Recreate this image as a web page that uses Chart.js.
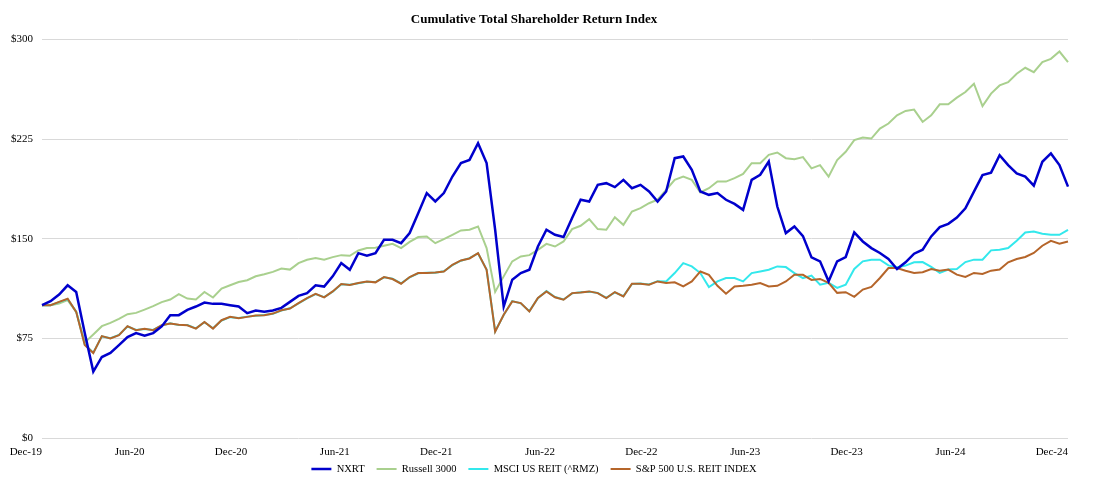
<!DOCTYPE html>
<html>
<head>
<meta charset="utf-8">
<script src="https://cdn.jsdelivr.net/npm/chart.js@4.4.1/dist/chart.umd.min.js"></script>
<style>
  html, body { margin: 0; padding: 0; background: #fff; }
  #wrap { width: 1115px; height: 480px; position: relative; }
</style>
</head>
<body>
<div id="wrap"><canvas id="tsrChart"></canvas></div>
<script>
// half-month steps, Dec-19 .. Dec-24 (121 points)
const tickLabels = ['Dec-19', 'Jun-20', 'Dec-20', 'Jun-21', 'Dec-21', 'Jun-22',
  'Dec-22', 'Jun-23', 'Dec-23', 'Jun-24', 'Dec-24'];

const nxrt = [
  100, 103, 108, 115, 110, 79, 50, 61, 64, 70, 76, 79,
  77, 79, 84, 92.5, 92.5, 96.5, 99, 102, 101, 101, 100, 99,
  94, 96, 95, 96, 98, 102.5, 107, 109, 115, 114, 121.7, 131.7,
  126.7, 139.2, 137.2, 139.2, 149.3, 149.3, 146.7, 154.3, 169.3, 184.4, 178.1, 184.4,
  196.9, 207, 209.4, 222, 207, 156.8, 99, 119.2, 124.2, 126.7, 144.2, 156.8,
  153, 151.3, 165.6, 179.4, 178.1, 190.6, 191.9, 188.9, 194.4, 188.1, 190.6, 185.6,
  178.1, 185.6, 210.7, 212, 201.9, 185.6, 183.1, 184.4, 179.4, 176.3, 171.8, 194.4,
  198.2, 208.2, 174.3, 154.3, 159.3, 152, 136, 133, 118, 133, 136.3, 154.8,
  148, 143, 139.3, 134.8, 127.3, 132.3, 138.8, 141.8, 151.8, 158.8, 161.3, 166,
  173, 185.5, 198, 199.8, 213, 205.5, 199.3, 196.8, 190, 208, 214.3, 205.5,
  189.3
];

const russell3000 = [
  100, 100, 101.3, 103.8, 95, 72, 78, 84.2, 86.7, 89.7, 93.2, 94.2,
  96.7, 99.3, 102.3, 104.3, 108.3, 105, 104.3, 110, 105.8, 112.5, 115, 117.5,
  118.8, 121.8, 123.3, 125.1, 127.6, 126.8, 131.7, 134.2, 135.5, 134.2, 136.2, 137.7,
  137.2, 141.2, 143, 143.2, 144.7, 146.2, 143, 147.7, 151.3, 151.8, 146.7, 149.8,
  153, 156.3, 156.8, 159.3, 143, 110, 121.7, 133, 136.7, 137.7, 141.7, 146.2,
  144.2, 148, 157.3, 159.8, 164.8, 157.3, 156.8, 166.3, 160.5, 170.6, 173.1, 176.8,
  179.4, 186.9, 194.4, 196.9, 194.4, 184.9, 188.1, 193.1, 193.1, 195.7, 198.9, 206.9,
  206.9, 213.2, 215, 210.7, 210, 211.5, 203, 205.5, 196.8, 209.3, 215.5, 224.3,
  226.3, 225.5, 233, 236.8, 243, 246.3, 247.3, 238, 243, 251.3, 251.3, 256.3,
  260.5, 266.8, 250, 259.3, 265.5, 268, 274.3, 278.8, 275.5, 283, 285.5, 291,
  283
];

const msciReit = [
  100, 100, 102.3, 104.6, 95.2, 70.4, 64.3, 76.5, 75.2, 77.6, 84, 81.4,
  82, 81.4, 84.7, 86.4, 85, 85.1, 82.6, 87.2, 82.6, 88.5, 91, 90.4,
  91.4, 92, 92.7, 93.5, 96, 97.7, 101.3, 105.2, 108.4, 106.1, 110.2, 115.7,
  115.4, 116.5, 117.7, 117.4, 121, 119.9, 116.4, 121, 124, 124.4, 124.5, 125.6,
  130.2, 133.5, 135.4, 139, 126.9, 80.3, 92.6, 103.1, 101.4, 95.5, 105.2, 110.6,
  106.2, 104.3, 108.9, 109.8, 110.2, 109.3, 105.6, 109.7, 106.8, 116, 116.4, 115.6,
  118.1, 117.9, 124.2, 131.7, 129.2, 124.2, 113.6, 117.9, 120.4, 120.4, 117.9, 124.2,
  125.4, 126.7, 129.2, 128.7, 124.2, 120.4, 122.3, 115.5, 116.8, 113, 115.5, 127.3,
  133, 134.3, 134.3, 130, 128.5, 129.8, 132.3, 132.5, 128.8, 124.3, 126.8, 127.3,
  132.5, 134.3, 134.3, 141.3, 141.8, 143, 148.5, 154.8, 155.5, 153.8, 153, 153,
  156.8
];

const spReit = [
  100, 100, 102.5, 104.8, 95, 70, 64, 76.7, 75, 77.4, 84.2, 81.2,
  82.2, 81.2, 84.9, 86.2, 85.2, 84.9, 82.4, 87.4, 82.4, 88.7, 91.2, 90.2,
  91.2, 92.2, 92.5, 93.7, 96.2, 97.5, 101.5, 105.4, 108.6, 105.9, 110.4, 115.9,
  115.2, 116.7, 117.9, 117.2, 121.2, 119.7, 116.2, 121.2, 124.2, 124.2, 124.7, 125.4,
  130.4, 133.7, 135.2, 139.2, 126.7, 80, 92.8, 102.9, 101.6, 95.3, 105.4, 110.4,
  106, 104.1, 109.1, 109.6, 110.4, 109.1, 105.4, 109.9, 106.6, 116.2, 116.2, 115.4,
  117.9, 116.7, 117.2, 114.1, 117.9, 125.4, 122.9, 114.6, 108.6, 114.1, 114.6, 115.4,
  116.7, 114.1, 114.6, 117.9, 122.9, 122.9, 119, 119.8, 116.8, 109.3, 109.8, 106.3,
  111.8, 113.8, 120.5, 128, 128, 126, 124.3, 124.8, 127.3, 126, 126.8, 123,
  121.3, 124.3, 123.5, 126, 126.8, 132.3, 134.8, 136.3, 139.3, 144.8, 148.5, 146.3,
  148
];

const yTicks = [0, 75, 150, 225, 300];

// category labels: one per half month
const categories = [];
for (let i = 0; i < nxrt.length; i++) {
  const m = 11 + Math.ceil(i / 2);
  const y = 2019 + Math.floor(m / 12);
  const mm = String(m % 12 + 1).padStart(2, '0');
  categories.push(y + '-' + mm + (i % 2 ? '-15' : '-end'));
}

const serif = "'Liberation Serif', 'Times New Roman', serif";
Chart.defaults.font.family = serif;
Chart.defaults.color = '#000';

const line = (label, data, color, width, order) => ({
  label: label,
  data: data,
  borderColor: color,
  backgroundColor: color,
  borderWidth: width,
  pointRadius: 0,
  pointHoverRadius: 0,
  tension: 0,
  fill: false,
  order: order
});

const chart = new Chart(document.getElementById('tsrChart'), {
  type: 'line',
  data: {
    labels: categories,
    datasets: [
      line('NXRT', nxrt, '#0000CC', 2.5, 0),
      line('Russell 3000', russell3000, '#A9D08E', 2, 3),
      line('MSCI US REIT (^RMZ)', msciReit, '#33E8EC', 2, 2),
      line('S&P 500 U.S. REIT INDEX', spReit, '#B5652A', 2, 1)
    ]
  },
  options: {
    responsive: true,
    maintainAspectRatio: false,
    animation: false,
    layout: { padding: { left: 0, right: 47, top: 0, bottom: 0 } },
    plugins: {
      title: {
        display: true,
        text: 'Cumulative Total Shareholder Return Index',
        font: { size: 13, weight: 'bold', family: serif },
        color: '#000',
        padding: { top: 12, bottom: 12 }
      },
      legend: {
        position: 'bottom',
        labels: {
          usePointStyle: true,
          pointStyle: 'line',
          pointStyleWidth: 20,
          boxHeight: 10.5,
          padding: 12,
          font: { size: 10.5, family: serif },
          color: '#000',
          sort: (a, b) => a.datasetIndex - b.datasetIndex
        }
      },
      tooltip: { enabled: false }
    },
    scales: {
      x: {
        type: 'category',
        afterFit: (scale) => { scale.height = 22; },
        grid: { display: false, drawTicks: false },
        border: { display: false },
        ticks: {
          autoSkip: false,
          maxRotation: 0,
          minRotation: 0,
          align: 'end',
          padding: 8,
          font: { size: 11, family: serif },
          color: '#000',
          callback: (v, i) => (i % 12 === 0 ? tickLabels[i / 12] : '')
        }
      },
      y: {
        min: 0,
        max: 300,
        afterBuildTicks: (scale) => { scale.ticks = yTicks.map(v => ({ value: v })); },
        afterFit: (scale) => { scale.width = 42; },
        grid: { color: '#D9D9D9', lineWidth: 1, drawTicks: false },
        border: { display: false },
        ticks: {
          padding: 9,
          font: { size: 11, family: serif },
          color: '#000',
          callback: (v) => '$' + v
        }
      }
    }
  }
});

// legend: keep item spacing but take less vertical room
const legendFit = chart.legend.fit;
chart.legend.fit = function () { legendFit.call(this); this.height = 20; };
const legendDraw = chart.legend.draw;
chart.legend.draw = function () {
  this.top -= 8.25;
  legendDraw.call(this);
  this.top += 8.25;
};
chart.update();
</script>
</body>
</html>
